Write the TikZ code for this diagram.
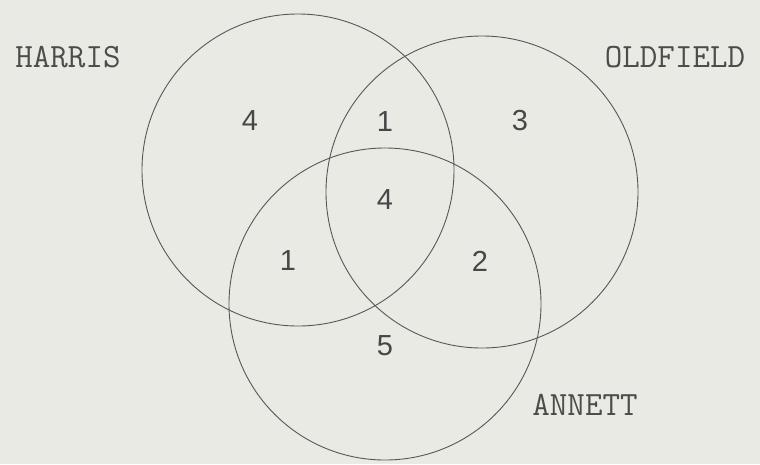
\documentclass[tikz,border=0pt]{standalone}
\usepackage{fontspec}
\setsansfont{Liberation Sans}
\definecolor{paper}{RGB}{232,234,227}
\definecolor{pencil}{RGB}{88,88,88}

\begin{document}
\begin{tikzpicture}[x=1pt, y=-1pt,
    setcircle/.style={
        draw=pencil,
        line width=0.9pt,
        circle,
        minimum size=312pt,
        inner sep=0pt
      },
    setname/.style={font=\ttfamily\fontsize{34}{40}\selectfont, text=black!70},
    count/.style={font=\sffamily\fontsize{29}{34}\selectfont, text=black!72}
  ]
  \fill[paper] (0,0) rectangle (760,464);
  \useasboundingbox (0,0) rectangle (760,464);

  \node[setcircle] (harris) at (298,170) {};
  \node[setcircle] (oldfield) at (482,192) {};
  \node[setcircle] (annett) at (385,304) {};

  \node[setname] (harrislabel) at (68,57) {HARRIS};
  \node[setname] (oldfieldlabel) at (675,57) {OLDFIELD};
  \node[setname] (annettlabel) at (585,405) {ANNETT};

  \node[count] (honly) at (250,121) {4};
  \node[count] (ho) at (385,122) {1};
  \node[count] (oonly) at (520,121) {3};
  \node[count] (hoa) at (385,200) {4};
  \node[count] (ha) at (288,261) {1};
  \node[count] (oa) at (480,261) {2};
  \node[count] (aonly) at (385,346) {5};
\end{tikzpicture}
\end{document}
